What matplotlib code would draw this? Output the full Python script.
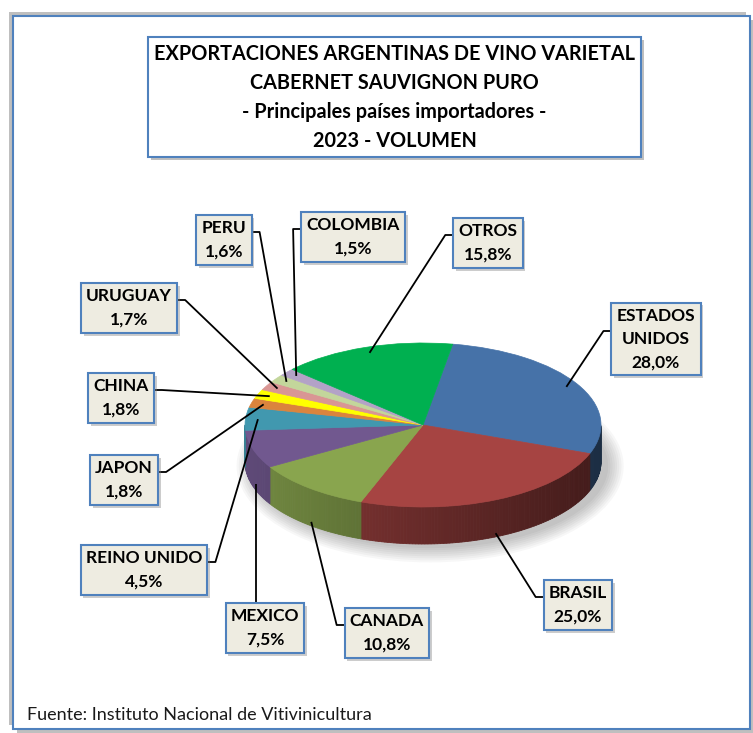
import matplotlib
matplotlib.use('Agg')
import matplotlib.pyplot as plt
import matplotlib.patheffects as pe
from matplotlib.colors import to_rgb
from matplotlib.patches import Rectangle, Ellipse
import numpy as np

# datos: volumen exportado por pais (%)
paises = ['ESTADOS\nUNIDOS', 'BRASIL', 'CANADA', 'MEXICO', 'REINO UNIDO',
          'JAPON', 'CHINA', 'URUGUAY', 'PERU', 'COLOMBIA', 'OTROS']
volumen = [28.0, 25.0, 10.8, 7.5, 4.5, 1.8, 1.8, 1.7, 1.6, 1.5, 15.8]
colores = ['#4672A8', '#A64442', '#89A54E', '#71588F', '#4198AF', '#DB843D',
           '#FFFF00', '#D99694', '#C3D69B', '#B3A2C7', '#00B050']

titulo = ('EXPORTACIONES ARGENTINAS DE VINO VARIETAL\nCABERNET SAUVIGNON PURO\n'
          '- Principales países importadores -\n2023 - VOLUMEN')
fuente = 'Fuente: Instituto Nacional de Vitivinicultura'

# layout (pixeles de la imagen, y hacia abajo)
W, H = 753, 733
CX, CY, RX, RY = 423, 425, 178, 82
DEPTH = 37 / RY
pos_etiquetas = [(656, 339), (578, 605), (387, 633), (265, 628), (144, 570),
                 (124, 480), (121, 398), (129, 308), (224, 240), (353, 237),
                 (488, 243)]
lados = ['left', 'left', 'left', 'top', 'right', 'right', 'right', 'right',
         'right', 'left', 'left']

plt.rcParams['font.family'] = ['Lato', 'DejaVu Sans']

fig = plt.figure(figsize=(W / 100, H / 100), dpi=100)
ax = fig.add_axes([0, 0, 1, 1])


def fpos(x, y):
    return x / W, 1 - y / H


# marco general
marco = Rectangle(fpos(13, 729), 737 / W, 713 / H, transform=fig.transFigure,
                  fc='white', ec='#4F81BD', lw=1.5, zorder=0)
marco.set_path_effects([pe.SimplePatchShadow(offset=(-3, 3), shadow_rgbFace='#808080', alpha=0.5),
                        pe.SimplePatchShadow(offset=(3, -3), shadow_rgbFace='#808080', alpha=0.5),
                        pe.Normal()])
fig.add_artist(marco)

# torta
wedges, _ = ax.pie(volumen, colors=colores, startangle=80.4, counterclock=False,
                   wedgeprops=dict(linewidth=0.5, zorder=3))
for w in wedges:
    w.set_edgecolor(w.get_facecolor())
ax.set_aspect('auto')
ax.set_xlim(-CX / RX, (W - CX) / RX)
ax.set_ylim(-(H - CY) / RY, CY / RY)
ax.axis('off')
ax.patch.set_alpha(0)

# sombra
for k in range(8):
    ax.add_patch(Ellipse((0.04, -DEPTH - 0.05), 2.0 + 0.025 * k, 2.0 + 0.05 * k,
                         color='black', alpha=0.03, lw=0, zorder=1))

# lados de la torta
for w, c in zip(wedges, colores):
    base = np.array(to_rgb(c))
    angs = np.linspace(w.theta1, w.theta2, int(abs(w.theta2 - w.theta1)) + 2)
    for a, b in zip(angs[:-1], angs[1:]):
        m = np.radians((a + b) / 2)
        if np.sin(m) >= 0:
            continue
        f = 0.62 - 0.22 * np.cos(m)
        ra, rb = np.radians(a), np.radians(b)
        xs = [np.cos(ra), np.cos(rb), np.cos(rb), np.cos(ra)]
        ys = [np.sin(ra), np.sin(rb), np.sin(rb) - DEPTH, np.sin(ra) - DEPTH]
        ax.fill(xs, ys, color=np.clip(base * f, 0, 1), lw=0.6, zorder=2)

# titulo
caja = Rectangle(fpos(148, 157), 493 / W, 120 / H, transform=fig.transFigure,
                 fc='white', ec='#4F81BD', lw=1.5, zorder=4)
caja.set_path_effects([pe.SimplePatchShadow(offset=(2, -2), shadow_rgbFace='#808080', alpha=0.5),
                       pe.Normal()])
fig.add_artist(caja)
fig.text(*fpos(394.5, 97.5), titulo, ha='center', va='center', fontsize=14.3,
         fontweight='bold', linespacing=1.55, zorder=5)

fig.text(*fpos(27, 715), fuente, ha='left', va='center', fontsize=13, color='#1a1a1a')

# etiquetas
textos = []
for p, v, (lx, ly) in zip(paises, volumen, pos_etiquetas):
    t = fig.text(*fpos(lx, ly), f'{p}\n{v:.1f}%'.replace('.', ','), ha='center',
                 va='center', ma='center', fontsize=12.5, fontweight='bold',
                 linespacing=1.55, zorder=6,
                 bbox=dict(boxstyle='square,pad=0.3', fc='#EEECE1', ec='#4F81BD', lw=1.5))
    t.get_bbox_patch().set_path_effects([
        pe.SimplePatchShadow(offset=(2, -2), shadow_rgbFace='#808080', alpha=0.4), pe.Normal()])
    textos.append(t)

fig.canvas.draw()
inv = ax.transData.inverted()
for w, t, lado in zip(wedges, textos, lados):
    m = np.radians((w.theta1 + w.theta2) / 2)
    if np.sin(m) < 0:
        anc = (0.98 * np.cos(m), 0.98 * np.sin(m) - DEPTH * 0.95)
    else:
        anc = (0.93 * np.cos(m), 0.93 * np.sin(m))
    bb = t.get_bbox_patch().get_window_extent()
    if lado == 'top':
        ax_anc = ax.transData.transform(anc)
        pts = [(ax_anc[0], bb.y1), (ax_anc[0], bb.y1)]
    elif lado == 'left':
        yy = (bb.y0 + bb.y1) / 2 + 8
        pts = [(bb.x0, yy), (bb.x0 - 8, yy)]
    else:
        yy = (bb.y0 + bb.y1) / 2 + 8
        pts = [(bb.x1, yy), (bb.x1 + 8, yy)]
    pts = inv.transform(pts)
    ax.plot([pts[0][0], pts[1][0], anc[0]], [pts[0][1], pts[1][1], anc[1]],
            color='black', lw=1.3, zorder=5, solid_capstyle='butt')

fig.savefig('out.png', dpi=100)
